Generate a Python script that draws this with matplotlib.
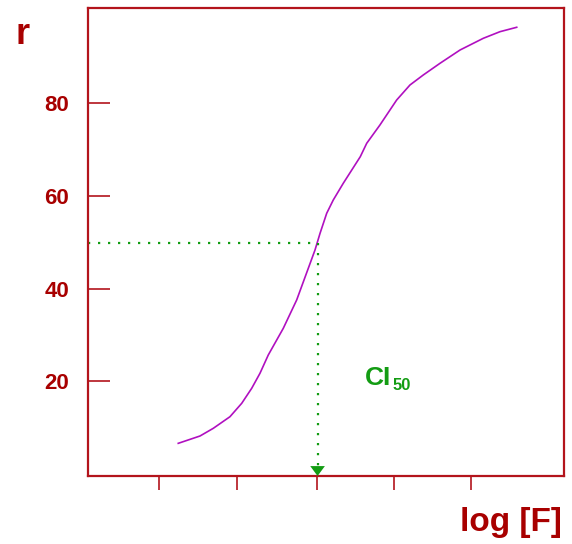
import matplotlib
matplotlib.use("Agg")
import matplotlib.pyplot as plt

# curve data
log_f = [1.245, 1.526, 1.698, 1.913, 2.065, 2.194, 2.301, 2.408, 2.602, 2.775, 3.012, 3.077,
         3.163, 3.248, 3.377, 3.597, 3.680, 3.851, 4.067, 4.239, 4.411, 4.627, 4.886, 5.186,
         5.402, 5.618]
r_vals = [6.62, 8.20, 9.86, 12.36, 15.25, 18.49, 21.73, 25.67, 31.43, 37.54, 48.33, 51.93,
          56.25, 59.12, 62.72, 68.46, 71.35, 75.30, 80.69, 83.93, 86.09, 88.61, 91.48, 94.00,
          95.43, 96.38]
x_ticks = [1.0, 2.0, 3.04, 4.03, 5.03]
y_ticks = [20, 40, 60, 80]
y_tick_labels = ["20", "40", "60", "80"]
ci50_x = 3.045
ci50_r = 49.8

dark_red = "#a80000"
spine_red = "#b3141c"
green = "#139c13"
purple = "#b010c0"

fig = plt.figure(figsize=(5.72, 5.44), dpi=100)
ax = fig.add_axes([88/572, 1-476/544, (564-88)/572, (476-8)/544])
x0, x1 = 0.079, 6.229
ax.set_xlim(x0, x1)
ax.set_ylim(-0.43, 100.54)

ax.plot(log_f, r_vals, color=purple, lw=1.2, solid_joinstyle="round")
ax.plot([x0, ci50_x], [ci50_r, ci50_r], color=green, lw=1.6, ls=(0, (1, 3.5)))
ax.plot([ci50_x, ci50_x], [ci50_r, 1.2], color=green, lw=1.6, ls=(0, (1, 3.5)))
ax.annotate("", xy=(ci50_x, -0.43), xytext=(ci50_x, 3.0),
            arrowprops=dict(arrowstyle="-|>,head_length=0.42,head_width=0.31",
                            color=green, lw=0, mutation_scale=17, shrinkA=0, shrinkB=0))

for s in ax.spines.values():
    s.set_color(spine_red)
    s.set_linewidth(1.6)

ax.set_xticks(x_ticks)
ax.set_xticklabels([])
ax.tick_params(axis="x", direction="out", length=10, width=1.2, color=spine_red)
ax.set_yticks(y_ticks)
ax.set_yticklabels(y_tick_labels, fontfamily="Liberation Sans", fontweight="bold",
                   fontsize=16, color=dark_red)
ax.tick_params(axis="y", direction="in", length=16, width=1.2, color=spine_red, pad=13.5)

fig.text(23/572, 1-34/544, "r", fontfamily="Liberation Sans", fontweight="bold",
         fontsize=26, color=dark_red, ha="center", va="center")
fig.text(562/572, 1-523/544, "log [F]", fontfamily="Liberation Sans", fontweight="bold",
         fontsize=24, color=dark_red, ha="right", va="center")
ax.text(3.658, 19.2, "CI", fontfamily="Liberation Sans", fontweight="bold",
        fontsize=19, color=green, ha="left", va="baseline")
ax.text(4.019, 18.1, "50", fontfamily="Liberation Sans", fontweight="bold",
        fontsize=12, color=green, ha="left", va="baseline")

fig.savefig("out.png", dpi=100)
